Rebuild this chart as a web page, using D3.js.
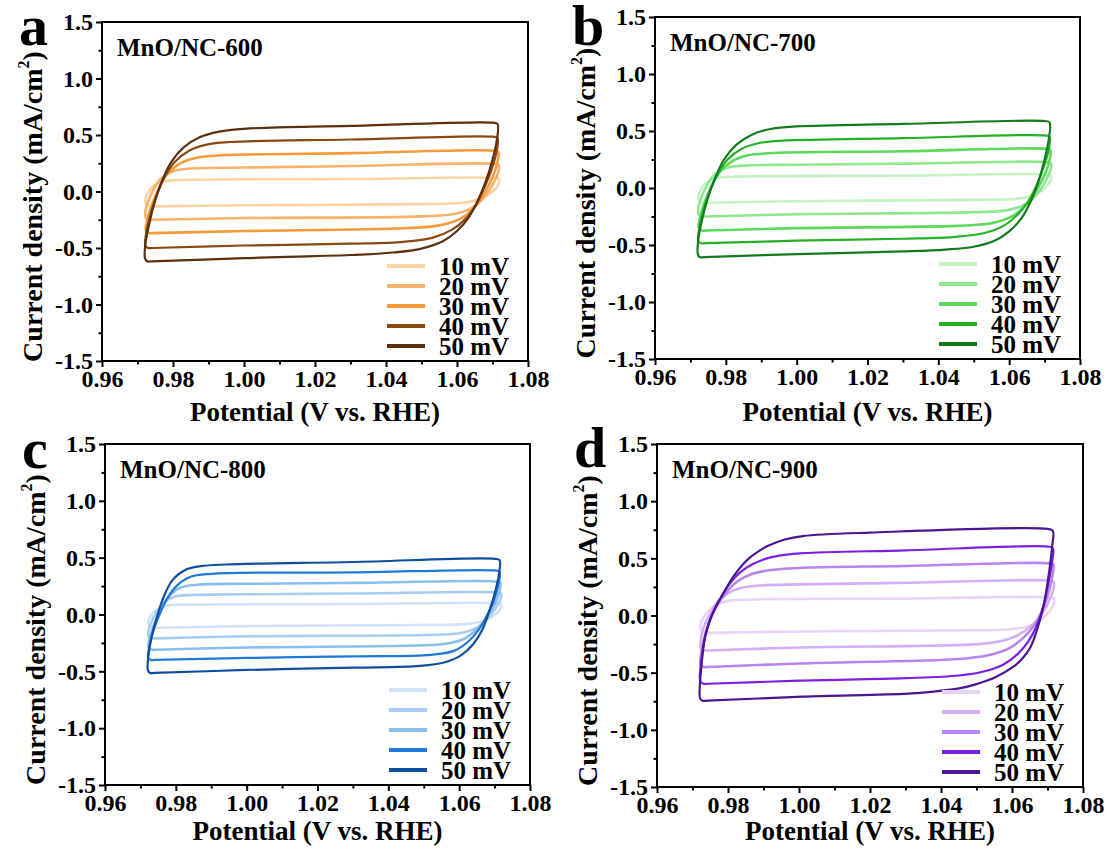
<!DOCTYPE html>
<html>
<head>
<meta charset="utf-8">
<script src="https://cdn.jsdelivr.net/npm/d3@7"></script>
<style>
  body { margin: 0; background: #fff; }
  svg text { font-family: "Liberation Serif", "Times New Roman", serif; font-weight: bold; fill: #000; }
</style>
</head>
<body>
<svg id="fig" width="1107" height="850"></svg>
<script>
// ---- chart values ----
const scanRates = ["10 mV", "20 mV", "30 mV", "40 mV", "50 mV"];
const sampleNames = ["MnO/NC-600", "MnO/NC-700", "MnO/NC-800", "MnO/NC-900"];
const panelLetters = ["a", "b", "c", "d"];
const potentialTicks = [0.96, 0.98, 1.00, 1.02, 1.04, 1.06, 1.08];
const potentialMinor = [0.97, 0.99, 1.01, 1.03, 1.05, 1.07];
const currentTicks = [-1.5, -1.0, -0.5, 0.0, 0.5, 1.0, 1.5];
const currentMinor = [-1.25, -0.75, -0.25, 0.25, 0.75, 1.25];

// CV loops: [potential (V vs. RHE), current density (mA/cm2)], one loop per scan rate
const cv600 = [
  [[0.9738,-0.132],[0.9726,-0.120],[0.9722,-0.080],[0.9728,-0.020],[0.9745,0.050],[0.9775,0.090],[0.9830,0.102],[1.030,0.110],[1.0700,0.120],[1.0718,0.110],[1.0716,0.060],[1.0700,0.000],[1.0670,-0.060],[1.0620,-0.100],[1.0500,-0.112],[1.000,-0.122],[0.9750,-0.132]],
  [[0.9735,-0.250],[0.9724,-0.235],[0.9722,-0.180],[0.9730,-0.090],[0.9745,0.020],[0.9768,0.120],[0.9800,0.180],[0.9850,0.203],[1.000,0.212],[1.030,0.225],[1.0700,0.245],[1.0718,0.232],[1.0716,0.170],[1.0704,0.080],[1.0682,-0.030],[1.0650,-0.130],[1.0600,-0.195],[1.0500,-0.220],[1.000,-0.235],[0.9745,-0.250]],
  [[0.9733,-0.368],[0.9724,-0.350],[0.9726,-0.270],[0.9738,-0.140],[0.9756,0.000],[0.9780,0.140],[0.9815,0.240],[0.9860,0.295],[0.9920,0.318],[1.030,0.340],[1.0700,0.362],[1.0716,0.350],[1.0714,0.260],[1.0702,0.140],[1.0680,0.000],[1.0650,-0.140],[1.0610,-0.240],[1.0550,-0.300],[1.0450,-0.325],[1.000,-0.350],[0.9745,-0.368]],
  [[0.9730,-0.500],[0.9722,-0.480],[0.9724,-0.380],[0.9735,-0.220],[0.9752,-0.050],[0.9775,0.120],[0.9805,0.260],[0.9845,0.360],[0.9895,0.415],[0.9960,0.438],[1.030,0.460],[1.0700,0.485],[1.0714,0.475],[1.0712,0.360],[1.0698,0.200],[1.0678,0.040],[1.0655,-0.110],[1.0625,-0.240],[1.0585,-0.340],[1.0530,-0.410],[1.0450,-0.445],[1.030,-0.462],[1.000,-0.478],[0.9742,-0.500]],
  [[0.9727,-0.618],[0.9721,-0.590],[0.9722,-0.470],[0.9732,-0.300],[0.9748,-0.100],[0.9770,0.100],[0.9795,0.260],[0.9830,0.390],[0.9875,0.480],[0.9930,0.530],[1.000,0.555],[1.030,0.580],[1.0700,0.609],[1.0714,0.598],[1.0712,0.450],[1.0700,0.280],[1.0680,0.080],[1.0660,-0.070],[1.0635,-0.220],[1.0600,-0.350],[1.0560,-0.440],[1.0500,-0.505],[1.0420,-0.540],[1.030,-0.562],[1.000,-0.590],[0.9740,-0.618]]
];
const cv700 = [
  [[0.9738,-0.130],[0.9726,-0.118],[0.9722,-0.078],[0.9728,-0.020],[0.9745,0.045],[0.9775,0.088],[0.9830,0.100],[1.030,0.108],[1.0700,0.119],[1.0718,0.108],[1.0716,0.058],[1.0700,-0.002],[1.0670,-0.062],[1.0620,-0.095],[1.0500,-0.104],[1.000,-0.116],[0.9750,-0.130]],
  [[0.9735,-0.250],[0.9724,-0.235],[0.9722,-0.180],[0.9730,-0.090],[0.9745,0.015],[0.9768,0.115],[0.9800,0.175],[0.9850,0.196],[1.000,0.204],[1.030,0.214],[1.0700,0.227],[1.0718,0.215],[1.0716,0.155],[1.0704,0.070],[1.0682,-0.040],[1.0650,-0.135],[1.0600,-0.192],[1.0500,-0.212],[1.000,-0.230],[0.9745,-0.250]],
  [[0.9733,-0.373],[0.9724,-0.355],[0.9726,-0.275],[0.9738,-0.145],[0.9756,-0.005],[0.9780,0.130],[0.9815,0.230],[0.9860,0.285],[0.9920,0.305],[1.030,0.322],[1.0700,0.344],[1.0716,0.332],[1.0714,0.245],[1.0702,0.130],[1.0680,-0.005],[1.0650,-0.140],[1.0610,-0.245],[1.0550,-0.310],[1.0450,-0.332],[1.000,-0.352],[0.9745,-0.373]],
  [[0.9730,-0.484],[0.9722,-0.465],[0.9724,-0.370],[0.9735,-0.210],[0.9752,-0.050],[0.9775,0.110],[0.9805,0.250],[0.9845,0.345],[0.9895,0.395],[0.9960,0.415],[1.030,0.437],[1.0700,0.461],[1.0714,0.450],[1.0712,0.340],[1.0698,0.190],[1.0678,0.030],[1.0655,-0.110],[1.0625,-0.230],[1.0585,-0.330],[1.0530,-0.395],[1.0450,-0.428],[1.030,-0.445],[1.000,-0.462],[0.9742,-0.484]],
  [[0.9727,-0.607],[0.9721,-0.580],[0.9722,-0.460],[0.9732,-0.290],[0.9748,-0.100],[0.9770,0.090],[0.9795,0.250],[0.9830,0.380],[0.9875,0.470],[0.9930,0.520],[1.000,0.540],[1.030,0.562],[1.0700,0.587],[1.0714,0.575],[1.0712,0.430],[1.0700,0.250],[1.0682,0.050],[1.0662,-0.110],[1.0636,-0.260],[1.0600,-0.380],[1.0560,-0.460],[1.0500,-0.515],[1.0420,-0.540],[1.030,-0.556],[1.000,-0.580],[0.9740,-0.607]]
];
const cv800 = [
  [[0.9738,-0.116],[0.9726,-0.105],[0.9722,-0.068],[0.9728,-0.015],[0.9745,0.040],[0.9775,0.078],[0.9830,0.086],[1.030,0.092],[1.0700,0.101],[1.0718,0.092],[1.0716,0.048],[1.0700,-0.005],[1.0670,-0.055],[1.0620,-0.085],[1.0500,-0.092],[1.000,-0.102],[0.9750,-0.116]],
  [[0.9735,-0.210],[0.9724,-0.198],[0.9722,-0.150],[0.9730,-0.075],[0.9745,0.020],[0.9768,0.110],[0.9800,0.160],[0.9850,0.172],[1.000,0.178],[1.030,0.185],[1.0700,0.195],[1.0718,0.185],[1.0716,0.130],[1.0704,0.060],[1.0682,-0.030],[1.0650,-0.115],[1.0600,-0.165],[1.0500,-0.180],[1.000,-0.192],[0.9745,-0.210]],
  [[0.9733,-0.310],[0.9724,-0.295],[0.9725,-0.225],[0.9736,-0.110],[0.9754,0.020],[0.9778,0.150],[0.9812,0.235],[0.9860,0.262],[1.000,0.270],[1.030,0.278],[1.0700,0.291],[1.0716,0.280],[1.0714,0.205],[1.0702,0.100],[1.0680,-0.020],[1.0650,-0.130],[1.0610,-0.220],[1.0550,-0.262],[1.0450,-0.275],[1.000,-0.290],[0.9745,-0.310]],
  [[0.9730,-0.400],[0.9722,-0.382],[0.9724,-0.300],[0.9734,-0.170],[0.9750,-0.030],[0.9772,0.120],[0.9800,0.245],[0.9840,0.330],[0.9900,0.358],[1.030,0.370],[1.0700,0.388],[1.0714,0.378],[1.0712,0.280],[1.0700,0.140],[1.0680,0.000],[1.0656,-0.130],[1.0625,-0.240],[1.0585,-0.320],[1.0520,-0.355],[1.030,-0.368],[1.000,-0.382],[0.9742,-0.400]],
  [[0.9727,-0.514],[0.9721,-0.490],[0.9722,-0.380],[0.9730,-0.220],[0.9745,-0.040],[0.9765,0.150],[0.9790,0.300],[0.9825,0.390],[0.9870,0.425],[0.9940,0.440],[1.030,0.462],[1.0700,0.490],[1.0714,0.478],[1.0712,0.350],[1.0700,0.180],[1.0684,0.020],[1.0666,-0.130],[1.0640,-0.260],[1.0605,-0.360],[1.0560,-0.420],[1.0490,-0.452],[1.030,-0.468],[1.000,-0.488],[0.9740,-0.514]]
];
const cv900 = [
  [[0.9738,-0.152],[0.9726,-0.140],[0.9722,-0.100],[0.9727,-0.040],[0.9742,0.030],[0.9765,0.090],[0.9800,0.128],[0.9860,0.140],[1.030,0.148],[1.0700,0.160],[1.0718,0.150],[1.0717,0.100],[1.0705,0.035],[1.0680,-0.040],[1.0645,-0.095],[1.0590,-0.122],[1.0450,-0.130],[1.000,-0.140],[0.9750,-0.152]],
  [[0.9735,-0.306],[0.9724,-0.290],[0.9723,-0.220],[0.9730,-0.120],[0.9745,-0.010],[0.9766,0.100],[0.9795,0.185],[0.9835,0.240],[0.9890,0.262],[1.000,0.272],[1.030,0.286],[1.0700,0.306],[1.0718,0.294],[1.0716,0.225],[1.0705,0.130],[1.0685,0.020],[1.0655,-0.090],[1.0615,-0.175],[1.0560,-0.230],[1.0480,-0.255],[1.000,-0.280],[0.9745,-0.306]],
  [[0.9732,-0.450],[0.9723,-0.430],[0.9724,-0.340],[0.9732,-0.210],[0.9746,-0.070],[0.9766,0.070],[0.9792,0.190],[0.9825,0.295],[0.9865,0.360],[0.9915,0.395],[1.000,0.416],[1.030,0.433],[1.0700,0.457],[1.0716,0.445],[1.0714,0.350],[1.0704,0.210],[1.0686,0.050],[1.0662,-0.090],[1.0630,-0.200],[1.0590,-0.290],[1.0530,-0.350],[1.0450,-0.380],[1.000,-0.420],[0.9745,-0.450]],
  [[0.9730,-0.597],[0.9722,-0.575],[0.9722,-0.470],[0.9728,-0.320],[0.9740,-0.130],[0.9758,0.030],[0.9780,0.160],[0.9805,0.280],[0.9835,0.380],[0.9870,0.450],[0.9910,0.500],[0.9960,0.530],[1.0011,0.545],[1.030,0.570],[1.0700,0.603],[1.0715,0.590],[1.0713,0.470],[1.0703,0.290],[1.0688,0.080],[1.0668,-0.100],[1.0645,-0.230],[1.0615,-0.340],[1.0575,-0.430],[1.0520,-0.490],[1.0450,-0.525],[1.030,-0.548],[1.000,-0.570],[0.9745,-0.597]],
  [[0.9728,-0.745],[0.9721,-0.720],[0.9721,-0.600],[0.9725,-0.450],[0.9735,-0.190],[0.9750,-0.030],[0.9765,0.073],[0.9790,0.210],[0.9814,0.335],[0.9840,0.440],[0.9863,0.510],[0.9890,0.570],[0.9913,0.610],[0.9960,0.665],[1.0011,0.695],[1.020,0.725],[1.0700,0.757],[1.0715,0.740],[1.0713,0.600],[1.0705,0.390],[1.0690,0.100],[1.0672,-0.110],[1.0652,-0.277],[1.0628,-0.380],[1.0603,-0.450],[1.0553,-0.540],[1.0500,-0.600],[1.0455,-0.635],[1.0380,-0.665],[1.0307,-0.684],[1.0011,-0.710],[0.9742,-0.745]]
];

// ---- styling ----
const palettes = [
  ["#fbd4a4", "#f7b36c", "#f59b3c", "#8a4912", "#5a3110"],
  ["#c6f2c6", "#90e590", "#5cd85c", "#26b026", "#127a1c"],
  ["#d0e3f6", "#a9cdf1", "#8cbeec", "#1e78d8", "#0f4f9e"],
  ["#e8d4f8", "#d3b0f5", "#b885ef", "#7a20e0", "#4b1690"]
];
// plot frames in px; xt = baseline offset of the x-axis title, ly = panel letter baseline
const boxes = [
  { l: 102, r: 528, t: 22,  b: 361, xt: 60, ly: 45 },
  { l: 655, r: 1080, t: 17, b: 359, xt: 62, ly: 45 },
  { l: 105, r: 530, t: 444, b: 785, xt: 55, ly: 468 },
  { l: 657, r: 1083, t: 444, b: 787, xt: 53, ly: 467 }
];
const allLoops = [cv600, cv700, cv800, cv900];

const svg = d3.select("#fig");
const fmtX = d => d.toFixed(2);
const fmtY = d => d.toFixed(1);

allLoops.forEach((loops, p) => {
  const bx = boxes[p];
  const x = d3.scaleLinear().domain([0.96, 1.08]).range([bx.l, bx.r]);
  const y = d3.scaleLinear().domain([-1.5, 1.5]).range([bx.b, bx.t]);
  const g = svg.append("g");

  // minor ticks
  g.append("g").attr("transform", `translate(0,${bx.b})`)
    .call(d3.axisBottom(x).tickValues(potentialMinor).tickSize(3.5).tickFormat(""))
    .call(a => a.select(".domain").remove());
  g.append("g").attr("transform", `translate(${bx.l},0)`)
    .call(d3.axisLeft(y).tickValues(currentMinor).tickSize(3.5).tickFormat(""))
    .call(a => a.select(".domain").remove());

  // major ticks with labels
  const xa = g.append("g").attr("transform", `translate(0,${bx.b})`)
    .call(d3.axisBottom(x).tickValues(potentialTicks).tickFormat(fmtX).tickSize(6).tickPadding(3));
  const ya = g.append("g").attr("transform", `translate(${bx.l},0)`)
    .call(d3.axisLeft(y).tickValues(currentTicks).tickFormat(fmtY).tickSize(6).tickPadding(3));
  [xa, ya].forEach(a => {
    a.select(".domain").remove();
    a.selectAll("text").style("font-size", "24px").style("font-family", '"Liberation Serif", serif').style("font-weight", "bold");
  });
  g.selectAll(".tick line").attr("stroke", "#000").attr("stroke-width", 2);

  // CV loops
  const line = d3.line()
    .x(d => x(d[0])).y(d => y(d[1]))
    .curve(d3.curveCatmullRomClosed.alpha(0.5));
  g.append("g").selectAll("path").data(loops).join("path")
    .attr("d", line)
    .attr("fill", "none")
    .attr("stroke", (d, i) => palettes[p][i])
    .attr("stroke-width", (d, i) => i < 3 ? 2.6 : 2.2)
    .attr("stroke-linejoin", "round");

  // frame
  g.append("rect").attr("x", bx.l).attr("y", bx.t)
    .attr("width", bx.r - bx.l).attr("height", bx.b - bx.t)
    .attr("fill", "none").attr("stroke", "#000").attr("stroke-width", 2);

  // legend
  const lg = g.append("g");
  scanRates.forEach((s, i) => {
    const ly = bx.b - 95 + i * 20;
    lg.append("line").attr("x1", bx.r - 141).attr("x2", bx.r - 103)
      .attr("y1", ly).attr("y2", ly)
      .attr("stroke", palettes[p][i]).attr("stroke-width", 4);
    lg.append("text").attr("x", bx.r - 89).attr("y", ly)
      .attr("dominant-baseline", "central")
      .style("font-size", "25px").text(s);
  });

  // sample name
  g.append("text").attr("x", bx.l + 15).attr("y", bx.t + 34)
    .style("font-size", "25px").text(sampleNames[p]);

  // panel letter
  g.append("text").attr("x", bx.l - 83).attr("y", bx.ly)
    .style("font-size", "58px").text(panelLetters[p]);

  // axis titles
  g.append("text").attr("x", (bx.l + bx.r) / 2).attr("y", bx.b + bx.xt)
    .attr("text-anchor", "middle").style("font-size", "27px")
    .text("Potential (V vs. RHE)");
  const yt = g.append("text")
    .attr("transform", `translate(${bx.l - 70},${(bx.t + bx.b) / 2 + 15}) rotate(-90)`)
    .attr("text-anchor", "middle").attr("dominant-baseline", "central")
    .style("font-size", "28px");
  yt.append("tspan").text("Current density (mA/cm");
  yt.append("tspan").attr("baseline-shift", "super").style("font-size", "16px").text("2");
  yt.append("tspan").text(")");
});
</script>
</body>
</html>
